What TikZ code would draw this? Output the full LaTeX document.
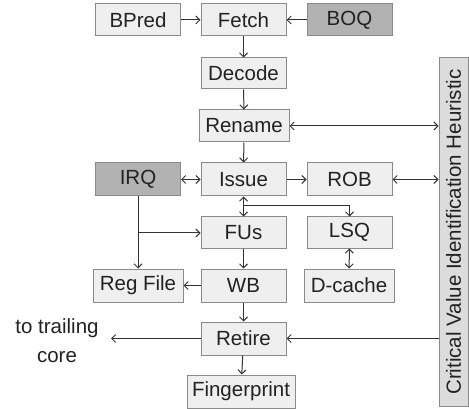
\documentclass[tikz,border=0pt]{standalone}
\usepackage{fontspec}
\setmainfont{Liberation Sans}
\usetikzlibrary{arrows.meta}
\definecolor{boxfill}{HTML}{EFEFEF}
\definecolor{boxline}{HTML}{8A8A8A}
\definecolor{darkfill}{HTML}{B2B2B2}
\definecolor{barfill}{HTML}{DCDCDC}
\definecolor{conn}{HTML}{333333}
\definecolor{txt}{HTML}{222222}
\begin{document}
\begin{tikzpicture}[x=1pt,y=-1pt,
  blk/.style={draw=boxline, fill=boxfill, line width=1pt, minimum width=85pt, minimum height=32pt, inner sep=0pt, text=txt, font=\fontsize{20.5}{23}\selectfont},
  dark/.style={blk, fill=darkfill},
  conline/.style={draw=conn, line width=1pt, arrows={-Straight Barb[length=4pt,width=8pt]}},
  dbl/.style={draw=conn, line width=1pt, arrows={Straight Barb[length=4pt,width=8pt]-Straight Barb[length=4pt,width=8pt]}}]
\useasboundingbox (0,0) rectangle (469,409);
\fill[white] (0,0) rectangle (469,409);
% blocks
\node[blk] (bpred) at (138,20) {BPred};
\node[blk] (fetch) at (243.5,20) {Fetch};
\node[dark] (boq) at (349.5,20) {BOQ};
\node[blk, minimum height=31pt] (decode) at (243.5,73.5) {Decode};
\node[blk, minimum width=90pt] (rename) at (244,126) {Rename};
\node[dark, minimum height=33pt] (irq) at (138,179.5) {IRQ};
\node[blk, minimum height=33pt] (issue) at (243.5,179.5) {Issue};
\node[blk, minimum height=33pt] (rob) at (349.5,179.5) {ROB};
\node[blk, minimum height=31pt] (fus) at (243.5,232.5) {FUs};
\node[blk, minimum height=31pt] (lsq) at (349.5,232.5) {LSQ};
\node[blk, minimum width=90pt, minimum height=33pt] (regfile) at (138,285.5) {Reg File};
\node[blk, minimum height=33pt] (wb) at (243.5,285.5) {WB};
\node[blk, minimum width=90pt, minimum height=33pt] (dcache) at (349,285.5) {D-cache};
\node[blk, minimum height=33pt] (retire) at (243.5,338.5) {Retire};
\node[blk, minimum width=108pt, minimum height=33pt] (finger) at (241,391.5) {Fingerprint};
\node[blk, fill=barfill, rotate=90, minimum width=348pt, minimum height=29pt] (bar) at (453.5,232) {Critical Value Identification Heuristic};
\node[text=txt, align=center, font=\fontsize{20.5}{29}\selectfont, inner sep=0pt] (trail) at (57,341) {to trailing\\core};
% junctions
\coordinate (tc) at (111,338.5);
\coordinate (j1) at (243.5,206);
\coordinate (j2) at (138,233);
% connectors
\draw[conline] (bpred) -- (fetch);
\draw[conline] (boq) -- (fetch);
\draw[conline] (fetch) -- (decode);
\draw[conline] (decode) -- (rename);
\draw[conline] (rename) -- (issue);
\draw[dbl] (rename.east) -- (rename.east -| bar.north);
\draw[dbl] (irq) -- (issue);
\draw[conline] (issue) -- (rob);
\draw[dbl] (rob.east) -- (rob.east -| bar.north);
\draw[dbl] (issue) -- (fus);
\draw[conline] (j1) -| (lsq.north);
\draw[conline] (irq) -- (regfile);
\draw[conline] (j2) -- (j2 -| fus.west);
\draw[conline] (fus) -- (wb);
\draw[dbl] (lsq) -- (dcache);
\draw[conline] (wb) -- (regfile);
\draw[conline] (wb) -- (retire);
\draw[conline] (retire) -- (tc);
\draw[conline] (retire.east -| bar.north) -- (retire.east);
\draw[conline] (retire) -- (finger);
\end{tikzpicture}
\end{document}
